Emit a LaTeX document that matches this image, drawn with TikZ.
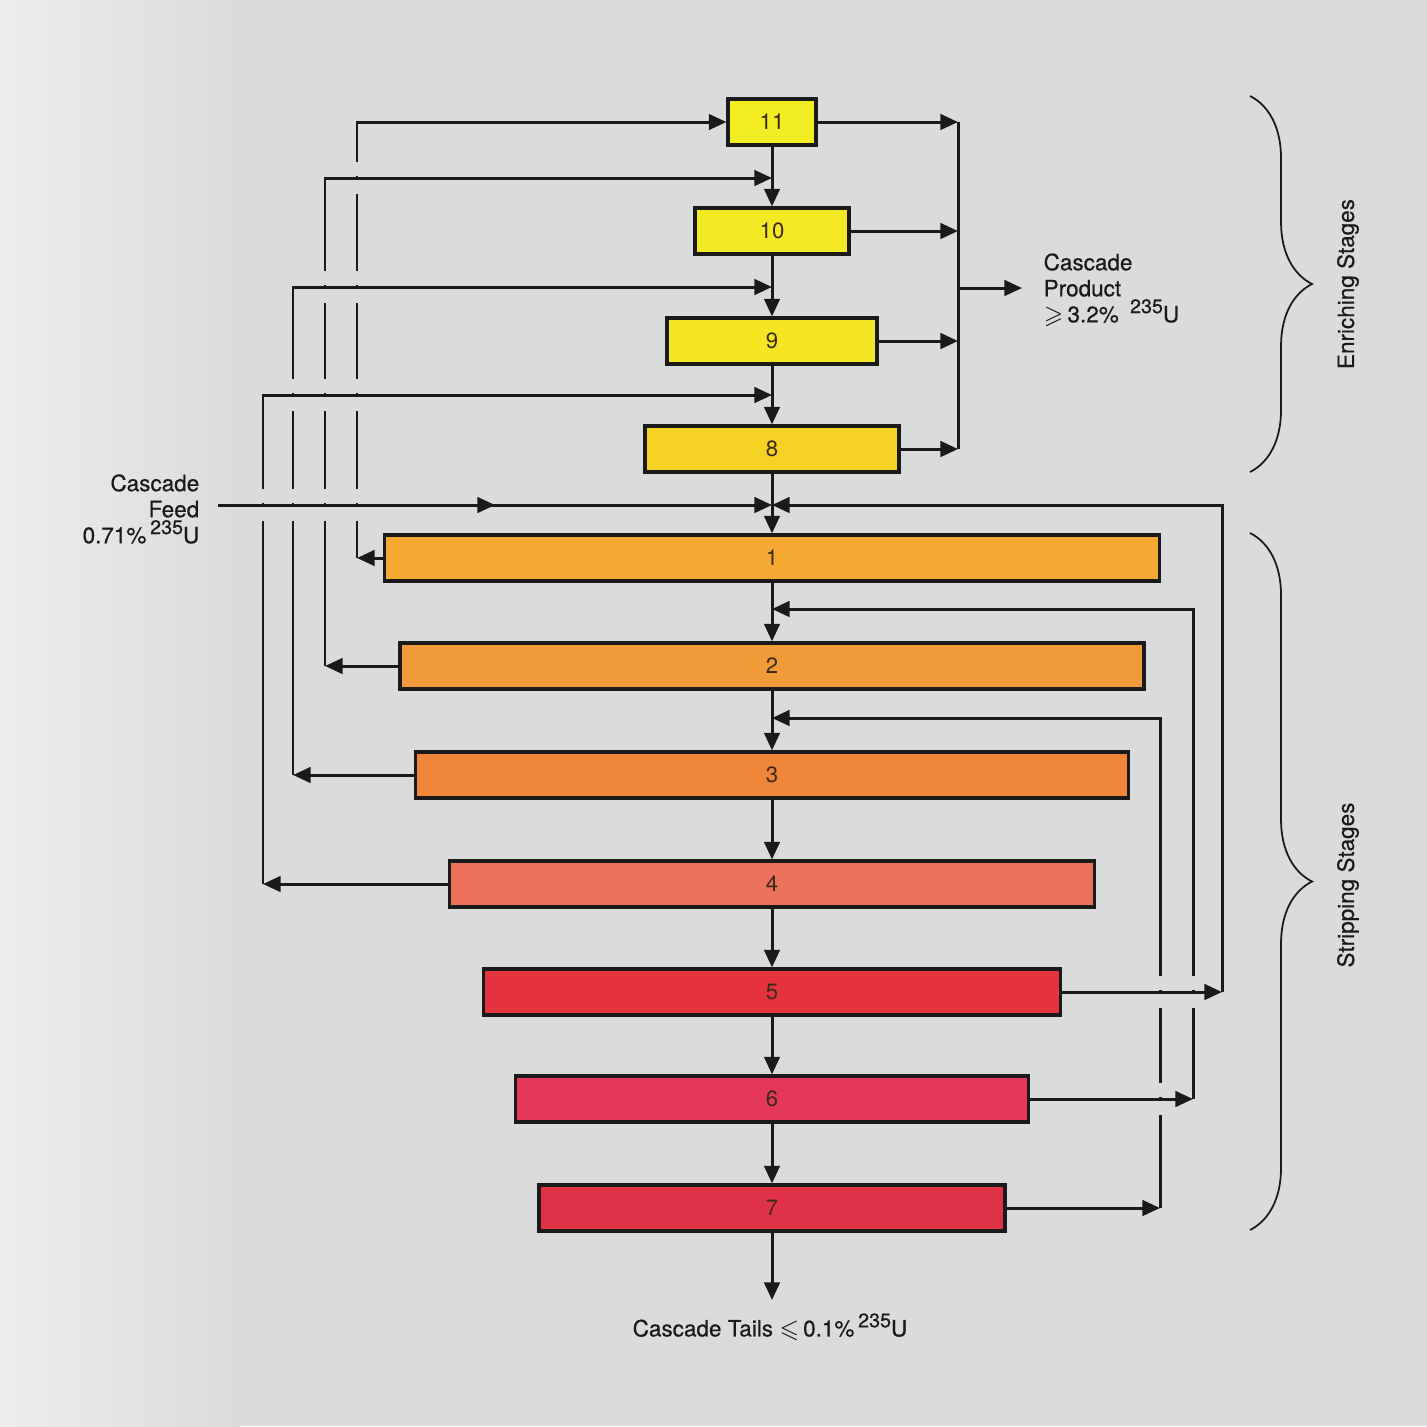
\documentclass[tikz,border=0pt]{standalone}
\usepackage{amssymb}
\usepackage{fontspec}
\setmainfont{TeX Gyre Heros}
\newfontfamily\labelfont{TeX Gyre Heros}[FakeBold=0.5]
\usetikzlibrary{arrows.meta,decorations.pathreplacing,decorations.markings}
\definecolor{bgc}{HTML}{DADCDB}
\definecolor{bgl}{HTML}{ECEDEC}
\definecolor{ink}{HTML}{1A1A1A}
\definecolor{numc}{HTML}{3B2A1A}
\definecolor{cK}{HTML}{F2EC22}
\definecolor{cJ}{HTML}{F3E924}
\definecolor{cI}{HTML}{F4E622}
\definecolor{cH}{HTML}{F5D324}
\definecolor{cA}{HTML}{F5A933}
\definecolor{cB}{HTML}{F19A39}
\definecolor{cC}{HTML}{EF863A}
\definecolor{cD}{HTML}{EC725C}
\definecolor{cE}{HTML}{E4333F}
\definecolor{cF}{HTML}{E53759}
\definecolor{cG}{HTML}{DF3247}
\tikzset{
  stage/.style={draw=ink,line width=0.9pt,minimum height=0.46cm,inner sep=0pt,
                font=\fontsize{6.3}{7}\selectfont,text=numc},
  flow/.style={-{Triangle[length=5pt,width=4.4pt]},line width=0.85pt,ink},
  wire/.style={line width=0.85pt,ink},
  midarrow/.style={postaction={decorate},decoration={markings,
                   mark=at position 0.5 with {\arrow{Triangle[length=5pt,width=4.4pt]}}}},
  lbl/.style={font=\labelfont\fontsize{6.4}{7.4}\selectfont,text=ink,inner sep=0pt},
  stagebrace/.style={decorate,decoration={brace,amplitude=0.62cm},line width=0.5pt,ink},
}
% break a vertical line where a horizontal one crosses it
\newcommand{\hop}[2]{%
  \fill[bgc] ({#1-5},{#2-16}) rectangle ({#1+5},{#2-1.8});
  \fill[bgc] ({#1-5},{#2+1.8}) rectangle ({#1+5},{#2+16});}
\newcommand{\uran}{\raisebox{2.6pt}{\fontsize{5.6}{6}\selectfont 235}U}

\begin{document}
\begin{tikzpicture}[x=0.01cm,y=-0.01cm]
  \fill[bgc] (0,0) rectangle (1427,1426);
  \shade[left color=bgl,right color=bgc] (0,0) rectangle (240,1426);
  \useasboundingbox (0,0) rectangle (1427,1426);

  % stages
  \foreach \n/\y/\w/\c in {11/122/88/cK,10/231/154/cJ,9/341/210/cI,8/449/254/cH,
      1/558/775/cA,2/666/744/cB,3/775/713/cC,4/884/645/cD,5/992/577/cE,
      6/1099/513/cF,7/1208/466/cG}
    \node[stage,fill=\c,minimum width=\w*0.01cm] (s\n) at (772,\y) {\n};

  % junctions on the main column
  \coordinate (j11) at (s11.west);
  \coordinate (j10) at (772,178);
  \coordinate (j9) at (772,287);
  \coordinate (j8) at (772,395);
  \coordinate (j1) at (772,505);
  \coordinate (j2) at (772,609);
  \coordinate (j3) at (772,718);
  \coordinate (feed) at (218,505);
  \coordinate (tails) at (772,1300);
  \coordinate (prod) at (958,288);
  \coordinate (prodout) at (1022,288);

  % main column
  \foreach \a/\b in {11/10,10/9,9/8,8/1,1/2,2/3,3/4,4/5,5/6,6/7}
    \draw[flow] (s\a.south) -- (s\b.north);
  \draw[flow] (s7.south) -- (tails);

  % enriching outputs to product
  \foreach \n in {11,10,9,8}
    \draw[flow] (s\n.east) -- (s\n.east -| prod);
  \draw[wire] (s11.east -| prod) -- (s8.east -| prod);
  \draw[flow] (prod) -- (prodout);

  % returns on the left
  \foreach \n/\x/\j in {1/357/11,2/325/10,3/293/9,4/263/8}{
    \draw[flow] (s\n.west) -- (s\n.west -| \x,0);
    \draw[flow] (s\n.west -| \x,0) |- (j\j);
  }

  % returns on the right
  \foreach \n/\x/\j in {5/1222/1,6/1193/2,7/1160/3}{
    \draw[flow] (s\n.east) -- (s\n.east -| \x,0);
    \draw[flow] (s\n.east -| \x,0) |- (j\j);
  }

  % feed
  \draw[flow,midarrow] (feed) -- (j1);

  % crossings
  \foreach \y in {178,287,395,505} {\hop{357}{\y}}
  \foreach \y in {287,395,505} {\hop{325}{\y}}
  \foreach \y in {395,505} {\hop{293}{\y}}
  \hop{263}{505}
  \hop{1193}{992}
  \hop{1160}{992}
  \hop{1160}{1099}

  % labels
  \node[lbl,align=right,anchor=east] (feedlbl) at (200,509)
    {Cascade\\Feed\\0.71\%\,\uran};
  \node[lbl,align=left,anchor=west] (prodlbl) at (1043,290)
    {Cascade\\Product\\$\geqslant$\,3.2\%\enspace\uran};
  \node[lbl] (tailslbl) at (770,1327)
    {Cascade Tails $\leqslant$\,0.1\%\,\uran};

  % braces
  \draw[stagebrace] (1250,96) -- (1250,472);
  \draw[stagebrace] (1250,533) -- (1250,1230);
  \node[lbl,rotate=90] (enrlbl) at (1348,284) {Enriching Stages};
  \node[lbl,rotate=90] (striplbl) at (1348,885) {Stripping Stages};
\end{tikzpicture}
\end{document}
